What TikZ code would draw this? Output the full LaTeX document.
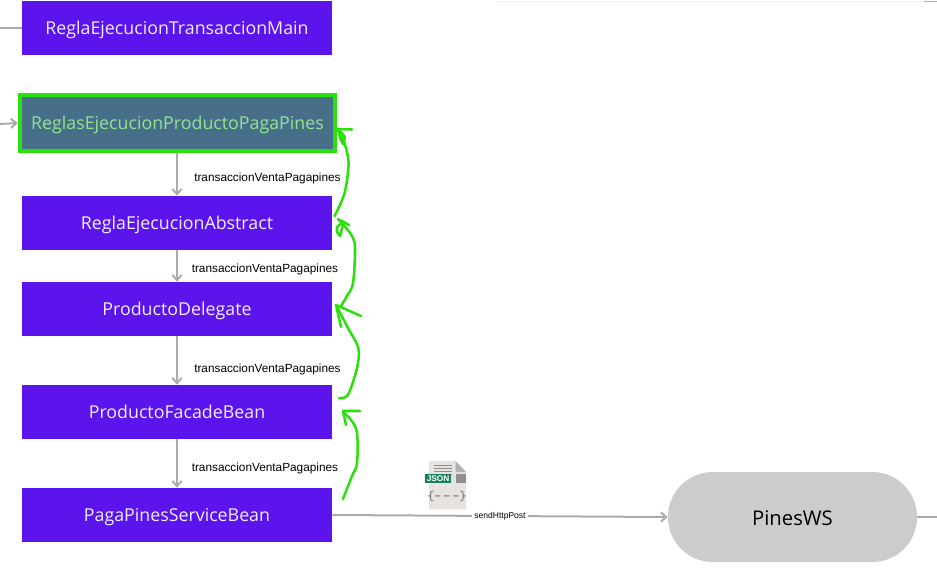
\documentclass[tikz,border=0pt]{standalone}
\usepackage{fontspec}
\setmainfont{Open Sans}
\newfontfamily\lblfont{Liberation Sans}
\usetikzlibrary{arrows.meta}
\definecolor{boxviolet}{HTML}{5B14EC}
\definecolor{boxteal}{HTML}{476F89}
\definecolor{lblgreen}{HTML}{93E391}
\definecolor{hand}{HTML}{2BE00C}
\definecolor{edgegray}{HTML}{ABABAB}
\definecolor{docgray}{HTML}{E6E3E1}
\definecolor{docdark}{HTML}{8E8E8E}
\definecolor{jsongreen}{HTML}{17805F}
\tikzset{
  procbox/.style={fill=boxviolet,minimum width=232.5pt,minimum height=40.5pt,inner sep=0pt,text height=10pt,text depth=0pt,text=white!92!boxviolet,font=\fontsize{13.35pt}{16pt}\selectfont},
  flow/.style={draw=edgegray,line width=1.5pt,-{Straight Barb[length=4pt,width=7pt,line width=1.5pt]}},
  stub/.style={draw=edgegray,line width=1.5pt},
  flowlbl/.style={font=\lblfont\fontsize{8.85pt}{10pt}\selectfont,text=black,inner sep=0pt,anchor=west},
  handstroke/.style={draw=hand,line width=1.9pt,line cap=round,line join=round}
}
\begin{document}
\begin{tikzpicture}[x=0.75pt,y=-0.75pt]
\useasboundingbox (0,0) rectangle (937,568);
% faint cut-off strokes at the top edge
\draw[black!7,line width=0.7pt] (497,1.2) -- (937,1.2);
\draw[edgegray,line width=1pt] (924,1.2) -- (937,1.2);
% boxes
\node[procbox] (main) at (177,28) {ReglaEjecucionTransaccionMain};
\node[procbox,fill=boxteal,text=lblgreen,draw=hand,line width=3pt,minimum width=236.5pt,minimum height=42pt] (reglas) at (177.5,123) {ReglasEjecucionProductoPagaPines};
\node[procbox] (abstract) at (177,223) {ReglaEjecucionAbstract};
\node[procbox] (delegate) at (177,309) {ProductoDelegate};
\node[procbox] (facade) at (177,412) {ProductoFacadeBean};
\node[procbox] (service) at (177,515) {PagaPinesServiceBean};
\node[fill=black!20,rounded corners=33.5pt,minimum width=186.75pt,minimum height=67.5pt,inner sep=0pt,text height=13pt,text depth=0pt,text=black,font=\fontsize{15.2pt}{18pt}\selectfont] (pines) at (792.5,517) {PinesWS};
% free ends
\coordinate (leftA) at (0,28);
\coordinate (leftB) at (0,124);
\coordinate (rightP) at (937,517);
\draw[stub] (leftA) -- (main.west);
\draw[flow] (leftB) -- (reglas.west);
\draw[stub] (pines.east) -- (rightP);
% flows
\draw[flow] (reglas.south -| 177,0) -- (abstract.north -| 177,0);
\draw[flow] (abstract.south) -- (delegate.north);
\draw[flow] (delegate.south) -- (facade.north);
\draw[flow] (facade.south) -- (service.north);
\draw[flow] (service.east) -- (pines.west) node[pos=0.5,fill=white,inner sep=1.5pt,text=black,font=\lblfont\fontsize{6.4pt}{8pt}\selectfont] {sendHttpPost};
% labels
\node[flowlbl] (l1) at (194,178) {transaccionVentaPagapines};
\node[flowlbl] (l2) at (191.5,269.5) {transaccionVentaPagapines};
\node[flowlbl] (l3) at (194,369.5) {transaccionVentaPagapines};
\node[flowlbl] (l4) at (191.5,468.5) {transaccionVentaPagapines};
% JSON document icon
\fill[docgray] (429,461) -- (455.5,461) -- (466,472) -- (466,509) -- (429,509) -- cycle;
\fill[docdark!70] (455.5,461) -- (466,472) -- (455.5,472) -- cycle;
\foreach \yy in {465,468,471,474} \draw[docdark,line width=0.6pt] (434,\yy) -- (452,\yy);
\fill[docdark] (456,474) rectangle (466,483);
\fill[jsongreen] (425,474) rectangle (451,483);
\node[inner sep=0pt,text=white,font=\lblfont\bfseries\fontsize{6.2pt}{7pt}\selectfont] (jsonlbl) at (438,478.5) {JSON};
\node[inner sep=0pt,text=black!60,font=\ttfamily\fontsize{10pt}{12pt}\selectfont] (jsonbody) at (447,496) {\{-\,-\,-\}};
% hand-drawn green arrows
\draw[handstroke] plot[smooth,tension=0.6] coordinates {(334.5,216) (344,195) (348,172) (348,157) (343,139) (337.5,129.5)};
\draw[handstroke] (352,129.5) -- (338,129) -- (340,138) -- (343,144) -- (345,137) -- (338,129);
\draw[handstroke] plot[smooth,tension=0.6] coordinates {(341,306) (347,296) (353,283) (355,250) (353,238) (347,229) (338,219)};
\draw[handstroke] (349,225) -- (340,220) (343,222) -- (337,227) -- (337,232) -- (340,236) -- (343,225);
\draw[handstroke] plot[smooth,tension=0.6] coordinates {(339,398) (347,396) (353,382) (358,363) (358,347) (348,328) (336,305)};
\draw[handstroke] (361,316) -- (336,305) -- (341,327);
\draw[handstroke] plot[smooth,tension=0.6] coordinates {(343,499) (352,476) (357,463) (357,433) (351,420) (343,412)};
\draw[handstroke] (360,411) -- (343,411) -- (346,425);
\end{tikzpicture}
\end{document}
